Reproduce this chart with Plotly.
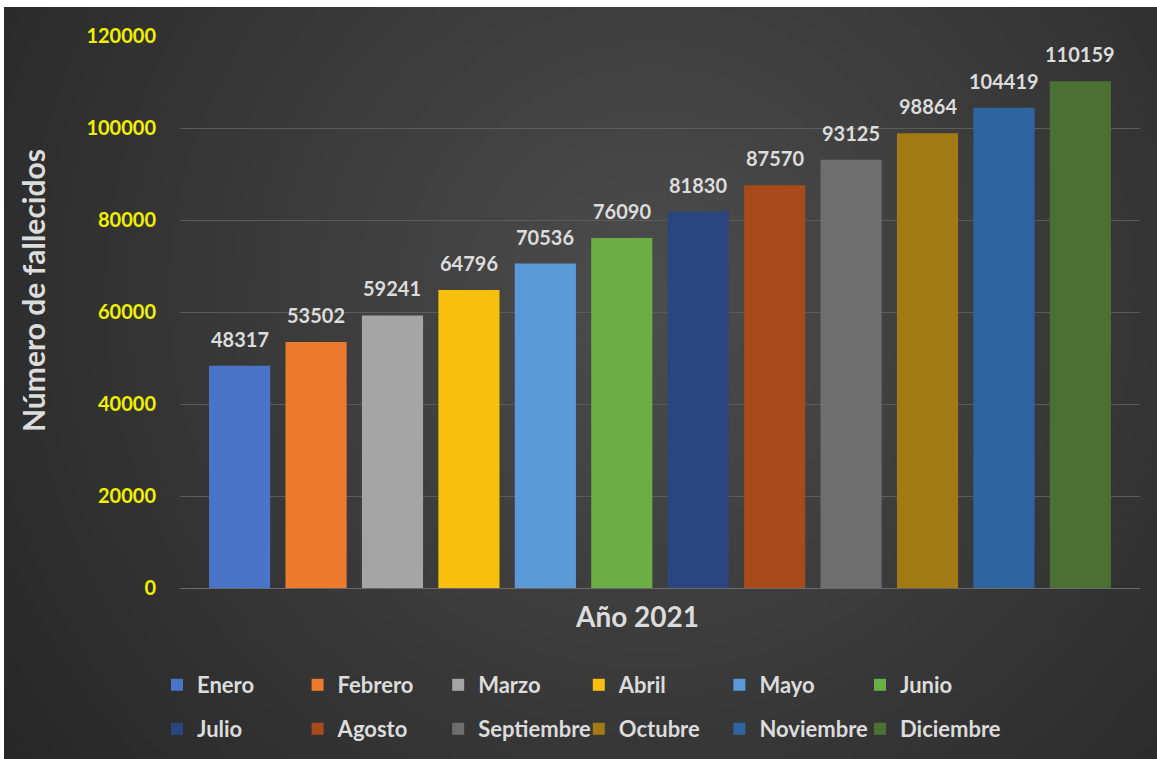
import base64, struct, zlib
import numpy as np
import plotly.graph_objects as go

months = ["Enero", "Febrero", "Marzo", "Abril", "Mayo", "Junio",
          "Julio", "Agosto", "Septiembre", "Octubre", "Noviembre", "Diciembre"]
deaths = [48317, 53502, 59241, 64796, 70536, 76090,
          81830, 87570, 93125, 98864, 104419, 110159]
colors = ["#4a74c8", "#ee7a2e", "#a5a5a5", "#f8c00c", "#5a9ad8", "#6aae44",
          "#2a4580", "#a84a1a", "#6e6e6e", "#a27a14", "#2e64a0", "#4a7034"]
y_ticks = [0, 20000, 40000, 60000, 80000, 100000, 120000]

W, H = 1157, 759
L, R, T, B = 180, 17, 36, 171
PW, PH = W - L - R, H - T - B


def px_x(px):
    return (px - L) / PW


def px_y(py):
    return (H - B - py) / PH


# radial background image (styling only)
iw, ih = 290, 190
yy, xx = np.mgrid[0:ih, 0:iw]
cx, cy = iw * 0.56, ih * 0.38
r = np.sqrt(((xx - cx) / (iw * 0.62)) ** 2 + ((yy - cy) / (ih * 0.95)) ** 2)
val = np.clip(77 - 34 * r, 38, 80).astype(np.uint8)
rows = b"".join(b"\x00" + bytes(np.stack([val[i]] * 3, axis=1).flatten()) for i in range(ih))


def chunk(tag, data):
    c = struct.pack(">I", len(data)) + tag + data
    return c + struct.pack(">I", zlib.crc32(tag + data) & 0xffffffff)


png = b"\x89PNG\r\n\x1a\n" + chunk(b"IHDR", struct.pack(">IIBBBBB", iw, ih, 8, 2, 0, 0, 0)) \
    + chunk(b"IDAT", zlib.compress(rows, 9)) + chunk(b"IEND", b"")
bg_src = "data:image/png;base64," + base64.b64encode(png).decode()

font_family = "Lato, 'Open Sans', sans-serif"
label_color = "#dcdcdc"

fig = go.Figure()
for i, (m, v, c) in enumerate(zip(months, deaths, colors)):
    fig.add_trace(go.Bar(
        x=[m], y=[v], name=m,
        marker=dict(color=c, line=dict(width=0)),
        width=0.8,
        legend="legend" if i < 6 else "legend2",
        hovertemplate="%{x}: %{y}<extra></extra>",
    ))

# value labels above each bar, built from the data
value_labels = [
    dict(x=m, y=v, xref="x", yref="y", text=str(v), showarrow=False,
         xanchor="center", yanchor="bottom", yshift=13,
         font=dict(family=font_family, size=20, color=label_color, weight="bold"))
    for m, v in zip(months, deaths)
]

legend_common = dict(
    orientation="h", xref="container", yref="container",
    x=157 / W, xanchor="left", yanchor="middle",
    font=dict(family=font_family, size=22, color=label_color, weight="bold"),
    bgcolor="rgba(0,0,0,0)", entrywidth=95.6, entrywidthmode="pixels",
    itemwidth=30, traceorder="normal",
)

fig.update_layout(
    width=W, height=H,
    margin=dict(l=L, r=R, t=T, b=B),
    paper_bgcolor="#ffffff",
    plot_bgcolor="rgba(0,0,0,0)",
    barmode="overlay",
    showlegend=True,
    legend=dict(legend_common, y=1 - 685 / H),
    legend2=dict(legend_common, y=1 - 729 / H),
    images=[dict(source=bg_src, xref="paper", yref="paper",
                 x=px_x(4), y=px_y(7), sizex=(W - 4) / PW, sizey=(H - 7) / PH,
                 xanchor="left", yanchor="top", sizing="stretch", layer="below")],
    xaxis=dict(categoryorder="array", categoryarray=months, range=[-0.78, 11.78],
               showticklabels=False, showgrid=False, zeroline=False, ticks="",
               showline=False),
    yaxis=dict(range=[0, 120000], tickvals=y_ticks, ticktext=[str(t) for t in y_ticks],
               showgrid=True, gridcolor="#5c5c5c", gridwidth=1,
               zeroline=True, zerolinecolor="#6a6a6a", zerolinewidth=1,
               showline=False, ticks="", ticklabelstandoff=23,
               tickfont=dict(family=font_family, size=20, color="#f0f000", weight="bold")),
    annotations=value_labels + [
        dict(text="Número de fallecidos", xref="paper", yref="paper",
             x=px_x(33), y=px_y(291), textangle=-90, showarrow=False,
             xanchor="center", yanchor="middle",
             font=dict(family=font_family, size=30, color=label_color, weight="bold")),
        dict(text="Año 2021", xref="paper", yref="paper",
             x=px_x(637), y=px_y(616), showarrow=False,
             xanchor="center", yanchor="middle",
             font=dict(family=font_family, size=28, color=label_color, weight="bold")),
    ],
)

fig.write_html("out.html")
